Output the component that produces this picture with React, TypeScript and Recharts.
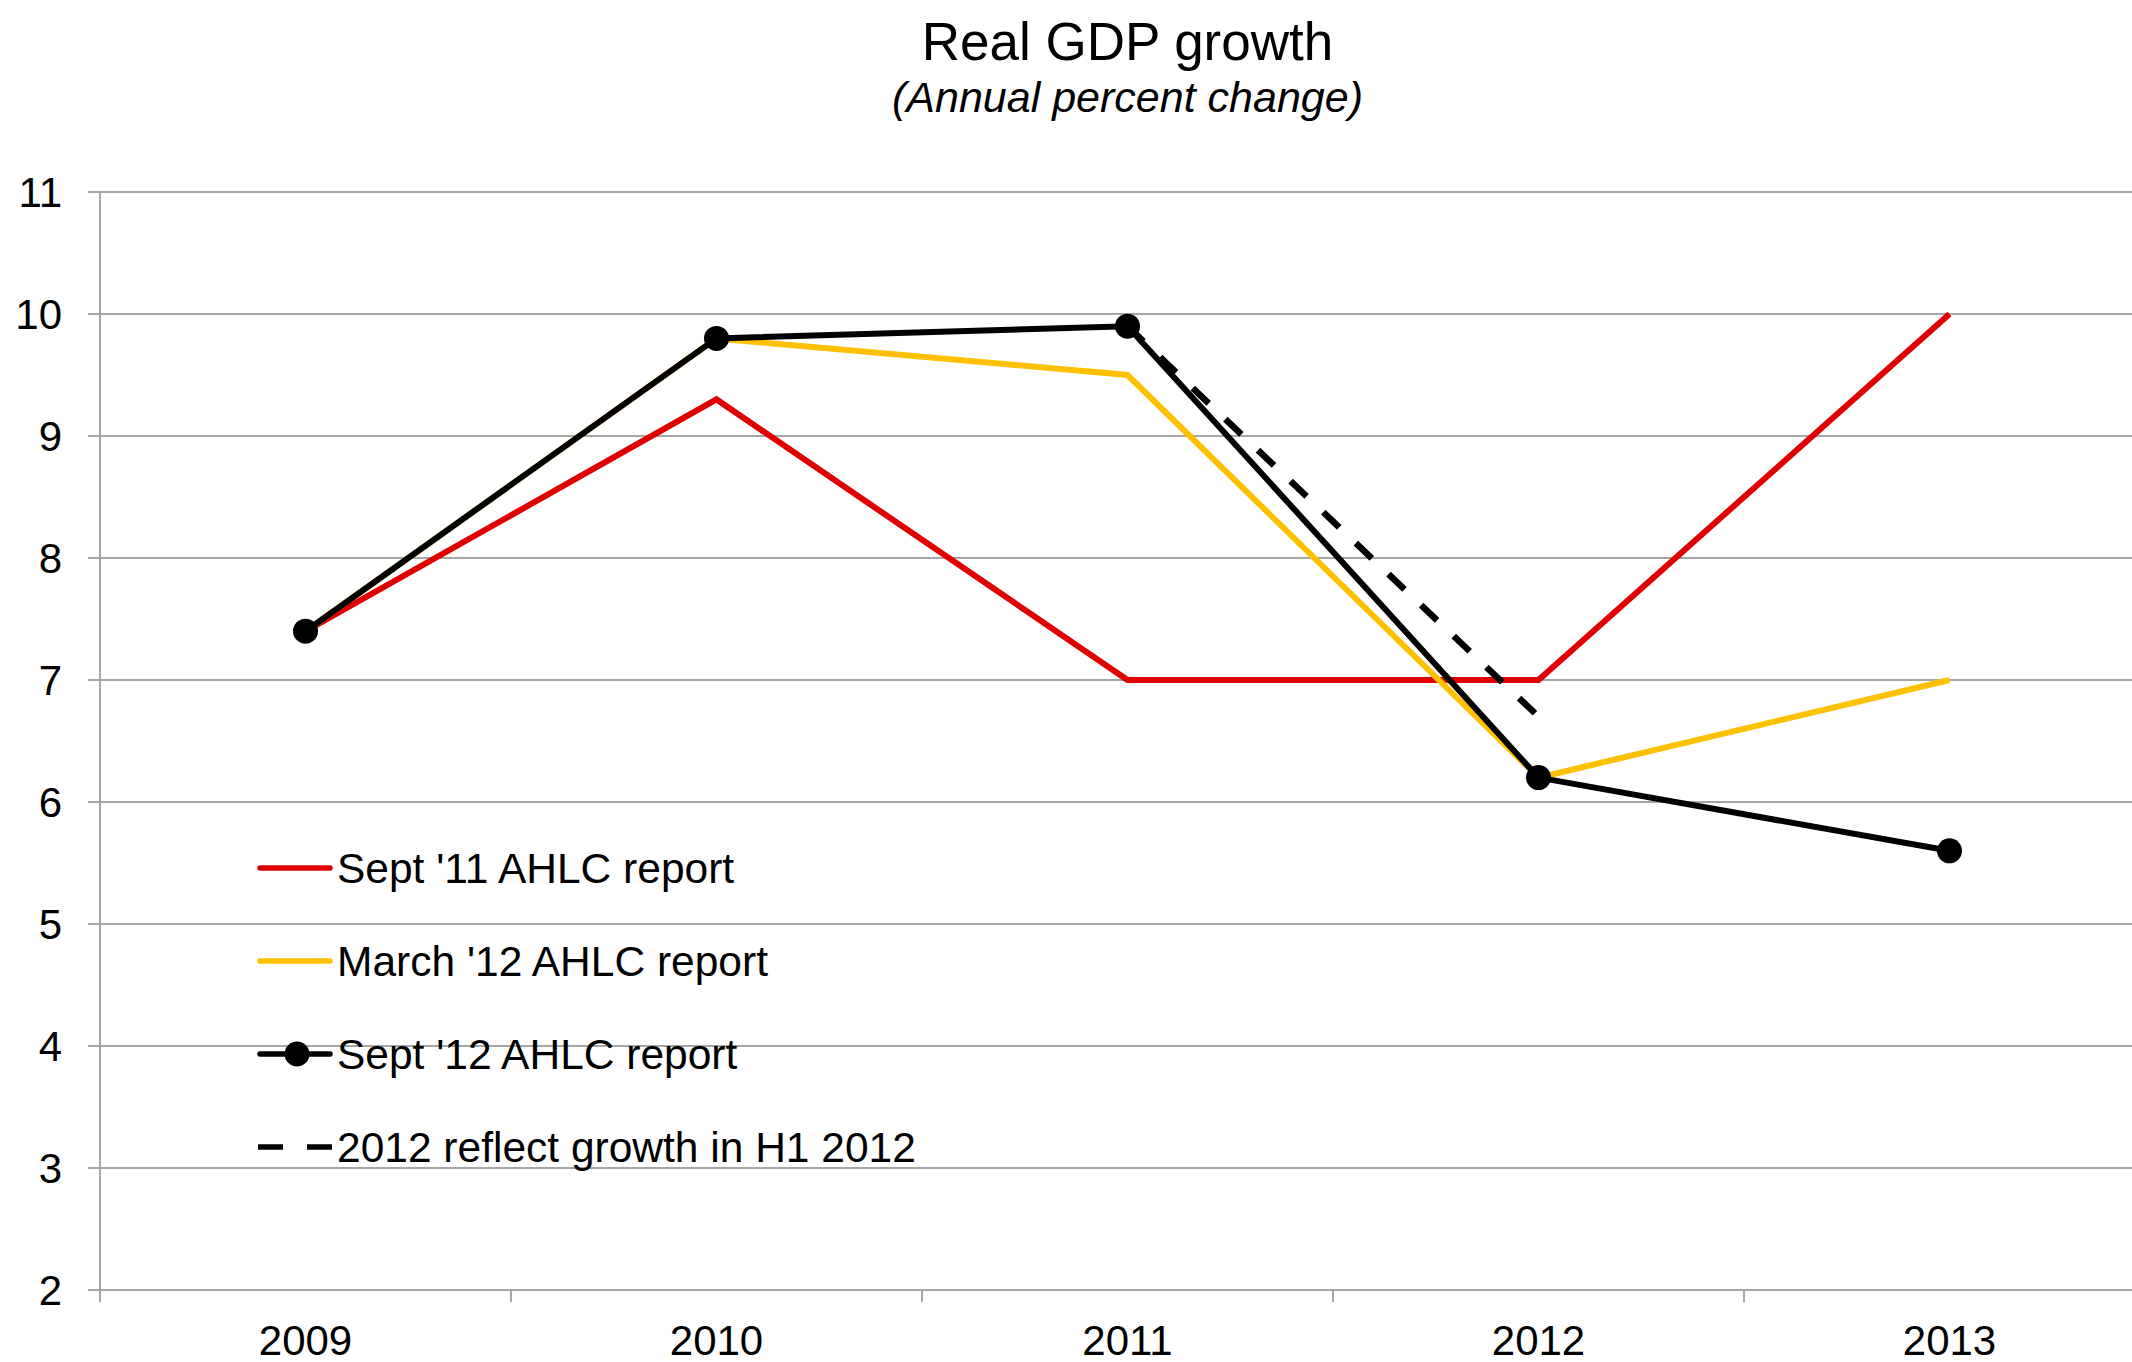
import React from 'react';
import { LineChart, Line, XAxis, YAxis, CartesianGrid, Legend } from 'recharts';

const years = ['2009', '2010', '2011', '2012', '2013'];
const sept11 = [7.4, 9.3, 7.0, 7.0, 10.0];
const march12 = [7.4, 9.8, 9.5, 6.2, 7.0];
const sept12 = [7.4, 9.8, 9.9, 6.2, 5.6];
const h1of2012: (number | null)[] = [null, null, 9.9, 6.7, null];
const yTicks = [2, 3, 4, 5, 6, 7, 8, 9, 10, 11];

const seriesNames = {
  sept11: "Sept '11 AHLC report",
  march12: "March '12 AHLC report",
  sept12: "Sept '12 AHLC report",
  h1: '2012 reflect growth in H1 2012',
};

const titleText = 'Real GDP growth';
const subtitleText = '(Annual percent change)';

const RED = '#E00000';
const YELLOW = '#FFC000';
const BLACK = '#000000';
const GRID = '#A6A6A6';
const FONT = '"Liberation Sans", Arial, Helvetica, sans-serif';

const data = years.map((y, i) => ({
  year: y,
  sept11: sept11[i],
  march12: march12[i],
  sept12: sept12[i],
  h1: h1of2012[i],
}));

const legendItems = [
  { name: seriesNames.sept11, color: RED, kind: 'line' },
  { name: seriesNames.march12, color: YELLOW, kind: 'line' },
  { name: seriesNames.sept12, color: BLACK, kind: 'dot' },
  { name: seriesNames.h1, color: BLACK, kind: 'dash' },
];

const XTick = (props: any) => {
  const { x, y, payload, width, visibleTicksCount } = props;
  const half = width / (visibleTicksCount || 5) / 2;
  const axisY = y - 35;
  return (
    <g>
      <line x1={x - half} x2={x - half} y1={axisY} y2={axisY + 12} stroke={GRID} strokeWidth={2} />
      <text x={x} y={y} dy="0.71em" textAnchor="middle" fontSize={42} fill="#000" fontFamily={FONT}>
        {payload.value}
      </text>
    </g>
  );
};

const renderLegend = () => (
  <svg width={760} height={360} style={{ display: 'block' }}>
    {legendItems.map((it, i) => {
      const cy = 48 + i * 93;
      return (
        <g key={it.name}>
          {it.kind === 'dash' ? (
            <line x1={8} x2={82} y1={cy} y2={cy} stroke={it.color} strokeWidth={5.5} strokeDasharray="25 24" />
          ) : (
            <line x1={10} x2={80} y1={cy} y2={cy} stroke={it.color} strokeWidth={5.5} strokeLinecap="round" />
          )}
          {it.kind === 'dot' ? <circle cx={47} cy={cy} r={12.5} fill={it.color} /> : null}
          <text x={87} y={cy + 15} fontSize={42.5} fontFamily={FONT} fill="#000">
            {it.name}
          </text>
        </g>
      );
    })}
  </svg>
);

export default function App() {
  return (
    <div
      style={{
        position: 'absolute',
        left: 0,
        top: 0,
        width: 2132,
        height: 1362,
        overflow: 'hidden',
        background: '#fff',
        fontFamily: FONT,
      }}
    >
      <svg
        width={2132}
        height={140}
        style={{ position: 'absolute', left: 0, top: 0, pointerEvents: 'none' }}
      >
        <text x={1127.5} y={60} textAnchor="middle" fontSize={53} fontFamily={FONT} fill="#000">
          {titleText}
        </text>
        <text
          x={1127.5}
          y={112}
          textAnchor="middle"
          fontSize={43}
          fontStyle="italic"
          fontFamily={FONT}
          fill="#000"
        >
          {subtitleText}
        </text>
      </svg>
      <div style={{ position: 'absolute', left: 0, top: 0 }}>
        <LineChart
          width={2155}
          height={1362}
          data={data}
          margin={{ top: 192, right: 0, bottom: 0, left: 0 }}
        >
          <CartesianGrid vertical={false} stroke={GRID} strokeWidth={2} />
          <XAxis
            dataKey="year"
            height={72}
            padding={{ left: 205.5, right: 205.5 }}
            axisLine={{ stroke: GRID, strokeWidth: 2 }}
            tickLine={false}
            tickSize={12}
            tickMargin={23}
            tick={<XTick />}
            interval={0}
          />
          <YAxis
            width={100}
            domain={[2, 11]}
            ticks={yTicks}
            interval={0}
            axisLine={{ stroke: GRID, strokeWidth: 2 }}
            tickLine={{ stroke: GRID, strokeWidth: 2 }}
            tickSize={12}
            tickMargin={26}
            tick={{ fontSize: 42, fill: '#000', fontFamily: FONT }}
          />
          <Legend
            layout="vertical"
            align="center"
            verticalAlign="middle"
            content={renderLegend}
            wrapperStyle={{ left: 250, top: 820, width: 760, height: 360 }}
          />
          <Line
            type="linear"
            dataKey="sept11"
            name={seriesNames.sept11}
            stroke={RED}
            strokeWidth={6}
            dot={false}
            activeDot={false}
            isAnimationActive={false}
          />
          <Line
            type="linear"
            dataKey="march12"
            name={seriesNames.march12}
            stroke={YELLOW}
            strokeWidth={6}
            dot={false}
            activeDot={false}
            isAnimationActive={false}
          />
          <Line
            type="linear"
            dataKey="h1"
            name={seriesNames.h1}
            stroke={BLACK}
            strokeWidth={6.5}
            strokeDasharray="22 23"
            dot={false}
            activeDot={false}
            connectNulls={false}
            isAnimationActive={false}
          />
          <Line
            type="linear"
            dataKey="sept12"
            name={seriesNames.sept12}
            stroke={BLACK}
            strokeWidth={6}
            dot={{ r: 12.5, fill: BLACK, stroke: BLACK, strokeWidth: 0 }}
            activeDot={false}
            isAnimationActive={false}
          />
        </LineChart>
      </div>
    </div>
  );
}
